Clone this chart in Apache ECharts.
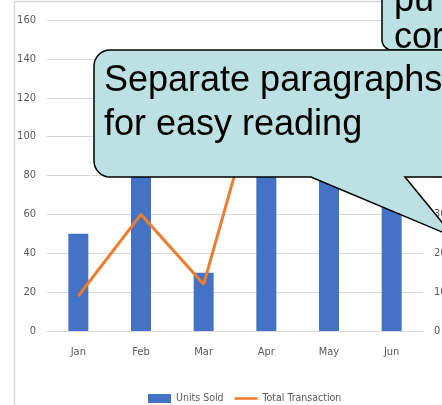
<!DOCTYPE html>
<html>
<head>
    <meta charset="utf-8">
    <title>Units Sold</title>
    <script src="https://cdn.jsdelivr.net/npm/echarts@6/dist/echarts.min.js"></script>
    <style>
        *{margin: 0;padding: 0;}
        body{background: #fff;}
    </style>
</head>
<body>
    <div id="main" style="width: 442px;height:405px;"></div>
    <script type="text/javascript">
        // data (Feb/Apr/May/Jun tops are hidden by the callout, estimated)
        var categories = ['Jan', 'Feb', 'Mar', 'Apr', 'May', 'Jun'];
        var unitsSold = [50, 95, 30, 120, 110, 85];
        var totalTransaction = [9, 30, 12, 69, 58, 52];
        var leftTicks = [0, 160, 20];   // min, max, interval
        var rightTicks = [0, 80, 10];

        var labelFont = '"DejaVu Sans Condensed", "Liberation Sans Narrow", sans-serif';
        var calloutFill = '#bde0e3';

        // rounded corner helper: points along a quarter arc
        function arc(cx, cy, r, a0, a1) {
            var pts = [];
            for (var i = 0; i <= 8; i++) {
                var a = (a0 + (a1 - a0) * i / 8) * Math.PI / 180;
                pts.push([cx + r * Math.cos(a), cy + r * Math.sin(a)]);
            }
            return pts;
        }

        // callout outline: rounded left corners, pointer going off to the right
        var calloutPts = []
            .concat(arc(110, 66, 16, 180, 270))
            .concat([[480, 50], [480, 177], [405, 177], [454, 237], [311, 177]])
            .concat(arc(110, 161, 16, 90, 180));

        var myChart = echarts.init(document.getElementById('main'));

        option = {
            backgroundColor: '#fff',
            animation: false,
            grid: {
                left: 47,
                right: 19,
                top: 20,
                bottom: 74,
                outerBoundsMode: 'none'
            },
            legend: {
                left: 143,
                top: 388,
                itemWidth: 23,
                itemHeight: 9,
                itemGap: 11,
                textStyle: {color: '#595959', fontSize: 10.5, fontFamily: labelFont},
                data: [
                    {name: 'Units Sold', icon: 'rect'},
                    {name: 'Total Transaction', icon: 'path://M0,0 L27,0 L27,3 L0,3 Z'}
                ]
            },
            xAxis: {
                type: 'category',
                data: categories,
                axisLine: {lineStyle: {color: '#d9d9d9', width: 1}},
                axisTick: {show: false},
                axisLabel: {color: '#595959', fontSize: 11, fontFamily: labelFont, margin: 16}
            },
            yAxis: [
                {
                    type: 'value',
                    min: leftTicks[0],
                    max: leftTicks[1],
                    interval: leftTicks[2],
                    axisLabel: {color: '#595959', fontSize: 11, fontFamily: labelFont, margin: 11},
                    splitLine: {lineStyle: {color: '#d9d9d9', width: 1}}
                },
                {
                    type: 'value',
                    min: rightTicks[0],
                    max: rightTicks[1],
                    interval: rightTicks[2],
                    axisLabel: {color: '#595959', fontSize: 11, fontFamily: labelFont, margin: 11},
                    splitLine: {show: false}
                }
            ],
            series: [
                {
                    name: 'Units Sold',
                    type: 'bar',
                    barWidth: 20,
                    itemStyle: {color: '#4472c4'},
                    data: unitsSold
                },
                {
                    name: 'Total Transaction',
                    type: 'line',
                    yAxisIndex: 1,
                    symbol: 'none',
                    lineStyle: {color: '#ed7d31', width: 3},
                    itemStyle: {color: '#ed7d31'},
                    data: totalTransaction
                }
            ],
            graphic: [
                // chart area border
                {
                    type: 'rect',
                    z: 1,
                    shape: {x: 14.5, y: 1.5, width: 600, height: 600},
                    style: {fill: 'none', stroke: '#d9d9d9', lineWidth: 1.5},
                    silent: true
                },
                // callout top right (mostly outside the picture)
                {
                    type: 'rect',
                    z: 100,
                    shape: {x: 382, y: -30, width: 100, height: 80, r: 10},
                    style: {fill: calloutFill, stroke: '#000', lineWidth: 1.5}
                },
                {
                    type: 'text',
                    z: 101,
                    x: 394,
                    y: -17,
                    style: {
                        text: 'pu\ncor',
                        font: '36px "Liberation Sans", Arial, sans-serif',
                        lineHeight: 37,
                        fill: '#000',
                        verticalAlign: 'top'
                    }
                },
                // big callout with pointer
                {
                    type: 'polygon',
                    z: 110,
                    shape: {points: calloutPts},
                    style: {fill: calloutFill, stroke: '#000', lineWidth: 1.5}
                },
                {
                    type: 'text',
                    z: 111,
                    x: 104,
                    y: 59,
                    style: {
                        text: 'Separate paragraphs\nfor easy reading',
                        font: '36px "Liberation Sans", Arial, sans-serif',
                        lineHeight: 44,
                        fill: '#000',
                        verticalAlign: 'top'
                    }
                }
            ]
        };

        myChart.setOption(option);
    </script>
</body>
</html>
